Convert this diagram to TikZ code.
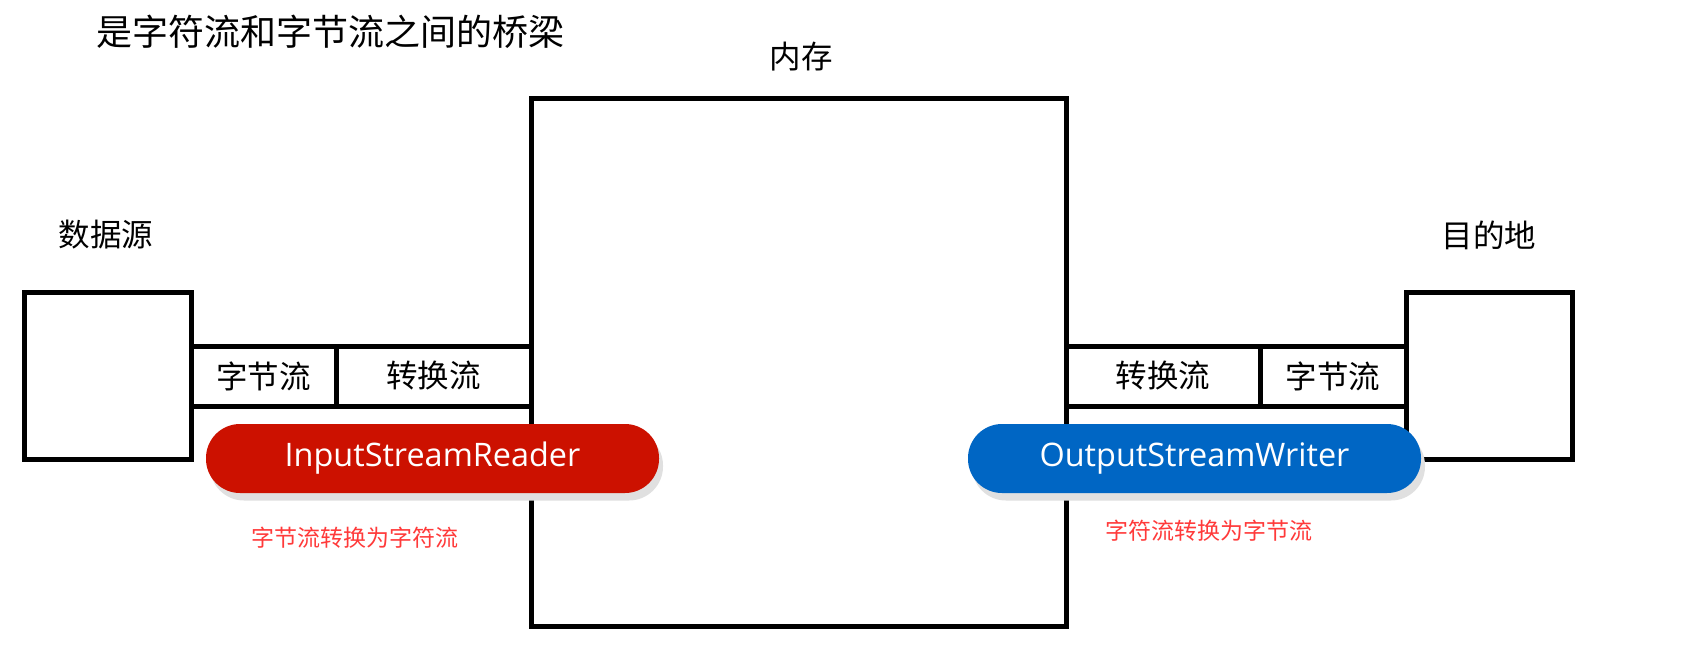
\documentclass[tikz,border=0pt]{standalone}
\usepackage{fontspec}
\setmainfont{Noto Sans CJK SC}
\newfontfamily\latinfont{Open Sans}
\definecolor{pillred}{HTML}{CC1100}
\definecolor{pillblue}{HTML}{0066C4}
\definecolor{notered}{HTML}{FF3A3A}
\definecolor{shadowgray}{HTML}{E0E0E0}
\tikzset{
  box/.style={draw=black, line width=5pt, minimum width=#1, inner sep=0pt},
  cell/.style={draw=black, line width=5pt, minimum width=#1, minimum height=60pt, inner sep=0pt, font=\fontsize{31.5}{31.5}\selectfont},
  lbl/.style={inner sep=0pt, font=\fontsize{31.5}{31.5}\selectfont},
  pill/.style={fill=#1, rounded corners=34pt, minimum width=453pt, minimum height=69pt, inner sep=0pt, text=white, font=\latinfont\fontsize{32.4}{32.4}\selectfont},
  pillshadow/.style={fill=shadowgray, rounded corners=34pt, minimum width=453pt, minimum height=69pt, inner sep=0pt},
  note/.style={inner sep=0pt, text=notered, font=\fontsize{23}{23}\selectfont}
}
\begin{document}
\begin{tikzpicture}[x=1pt,y=-1pt]
\useasboundingbox[fill=white] (0,0) rectangle (1692,651);
% title
\node[inner sep=0pt, font=\fontsize{36}{36}\selectfont] (title) at (330,32) {是字符流和字节流之间的桥梁};
% memory
\node[box=535pt, minimum height=528pt] (mem) at (798.5,362) {};
\node[lbl] (memlbl) at (801,57) {内存};
% source
\node[box=167pt, minimum height=167pt] (src) at (107.5,375.5) {};
\node[lbl] (srclbl) at (106,235) {数据源};
% destination
\node[box=166pt, minimum height=167pt] (dst) at (1489,375.5) {};
\node[lbl] (dstlbl) at (1489,235) {目的地};
% left pipe
\node[cell=145pt] (lbyte) at (263.5,376) {字节流};
\node[cell=195pt] (lconv) at (433.5,376) {转换流};
% right pipe
\node[cell=194pt] (rconv) at (1163,376) {转换流};
\node[cell=146pt] (rbyte) at (1333,376) {字节流};
% pills
\node[pillshadow] (rshadow) at (436.5,466) {};
\node[pill=pillred] (isr) at (432.5,458.5) {InputStreamReader};
\node[pillshadow] (bshadow) at (1198.5,466) {};
\node[pill=pillblue] (osw) at (1194.5,458.5) {OutputStreamWriter};
% notes
\node[note] (lnote) at (355,538) {字节流转换为字符流};
\node[note] (rnote) at (1209,531) {字符流转换为字节流};
\end{tikzpicture}
\end{document}
